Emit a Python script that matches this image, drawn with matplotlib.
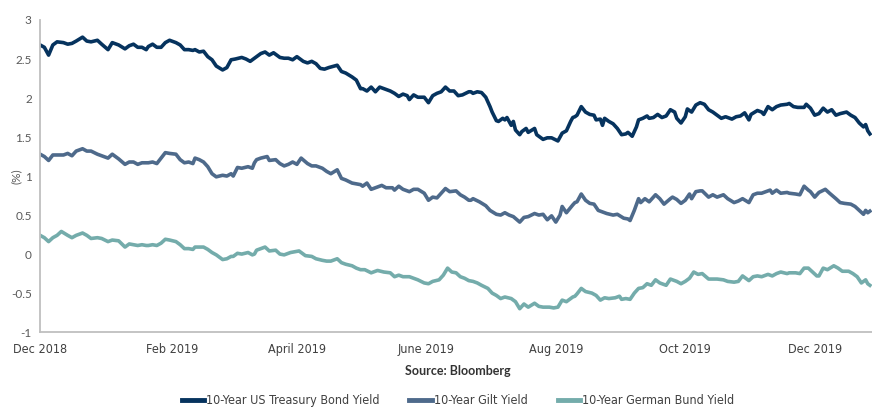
import numpy as np
import pandas as pd
import matplotlib
matplotlib.use("Agg")
import matplotlib.pyplot as plt
from matplotlib import font_manager

# 10-year government bond yields (%), day offsets from 1 Dec 2018
start = pd.Timestamp("2018-12-01")

ust_days = [0, 2, 4, 6, 8, 11, 13, 15, 17, 20, 22, 24, 27, 29, 32, 34, 37, 40, 42, 44, 46, 48, 50,
            51, 53, 55, 57, 59, 61, 64, 66, 68, 70, 72, 73, 75, 77, 79, 81, 83, 86, 88, 90, 92, 95, 97, 99, 101,
            102, 104, 106, 108, 110, 113, 115, 117, 119, 121, 124, 126, 128, 130, 132, 134, 136, 140, 142, 144, 147, 149, 151,
            152, 154, 156, 158, 160, 163, 165, 167, 169, 171, 173, 174, 176, 178, 181, 183, 185, 187, 189, 191, 193, 195, 197, 199, 202,
            203, 204, 206, 208, 210, 212, 213, 215, 216, 218, 219, 220, 222, 223, 224, 226, 227, 229, 230, 233, 234, 237, 239, 241, 244, 246, 248, 250, 251, 252,
            253, 255, 257, 259, 261, 262, 264, 265, 266, 268, 270, 272, 274, 276, 277, 279, 281, 282, 284, 286, 287, 289, 291, 293, 295, 297, 299, 300, 302,
            304, 305, 307, 309, 311, 313, 315, 317, 319, 321, 323, 326, 328, 330, 332, 334, 335, 338, 340, 341, 343, 345, 347, 349, 352,
            353, 355, 357, 360, 361, 363, 365, 367, 369, 371, 373, 375, 377, 380, 382, 384, 386, 388, 389, 390, 391]
ust = [2.68, 2.65, 2.55, 2.68, 2.72, 2.71, 2.69, 2.70, 2.73, 2.78, 2.73, 2.72, 2.74, 2.69, 2.62, 2.71, 2.68, 2.63, 2.67, 2.69, 2.65, 2.65, 2.62,
       2.66, 2.69, 2.65, 2.65, 2.71, 2.74, 2.71, 2.68, 2.62, 2.62, 2.61, 2.62, 2.59, 2.60, 2.53, 2.49, 2.41, 2.36, 2.39, 2.49, 2.50, 2.52, 2.50, 2.47, 2.51,
       2.53, 2.57, 2.59, 2.55, 2.58, 2.52, 2.51, 2.51, 2.49, 2.53, 2.47, 2.45, 2.47, 2.44, 2.38, 2.37, 2.39, 2.42, 2.34, 2.32, 2.27, 2.23, 2.12,
       2.12, 2.09, 2.14, 2.08, 2.14, 2.11, 2.09, 2.06, 2.02, 2.05, 2.03, 1.98, 2.04, 2.01, 2.01, 1.94, 2.03, 2.06, 2.08, 2.14, 2.09, 2.09, 2.03, 2.04, 2.08,
       2.08, 2.06, 2.08, 2.07, 2.01, 1.89, 1.82, 1.71, 1.70, 1.74, 1.72, 1.75, 1.65, 1.70, 1.59, 1.53, 1.57, 1.61, 1.56, 1.61, 1.53, 1.47, 1.49, 1.49, 1.45, 1.55, 1.58, 1.70, 1.75, 1.76,
       1.78, 1.89, 1.82, 1.79, 1.78, 1.72, 1.73, 1.65, 1.74, 1.70, 1.67, 1.61, 1.53, 1.54, 1.56, 1.51, 1.63, 1.72, 1.74, 1.77, 1.74, 1.75, 1.79, 1.75, 1.77, 1.85, 1.82, 1.74, 1.68,
       1.76, 1.86, 1.82, 1.91, 1.94, 1.92, 1.85, 1.82, 1.78, 1.74, 1.76, 1.73, 1.76, 1.77, 1.81, 1.72, 1.79, 1.84, 1.82, 1.79, 1.89, 1.85, 1.89, 1.91, 1.92,
       1.93, 1.89, 1.88, 1.88, 1.92, 1.87, 1.78, 1.80, 1.87, 1.82, 1.85, 1.78, 1.80, 1.82, 1.78, 1.75, 1.68, 1.63, 1.66, 1.58, 1.54]

gilt_days = [0, 2, 4, 6, 8, 11, 13, 15, 17, 20, 22, 24, 27, 29, 32, 34, 37, 40, 42, 44, 46, 48, 50,
             51, 53, 55, 57, 59, 61, 64, 66, 68, 70, 72, 73, 75, 77, 79, 81, 83, 86, 88, 90, 91, 93, 95, 98, 100, 101,
             102, 104, 107, 108, 111, 113, 115, 117, 119, 121, 123, 126, 128, 130, 133, 135, 137, 140, 142, 144, 147, 149, 151,
             152, 154, 156, 159, 161, 163, 166, 167, 169, 171, 174, 176, 178, 181, 183, 185, 187, 189, 191, 193, 196, 198, 200, 202,
             203, 204, 207, 210, 212, 215, 217, 219, 221, 223, 226, 228, 230, 233, 235, 237, 239, 241, 243, 245, 246, 248, 251, 252,
             253, 255, 257, 259, 261, 263, 265, 267, 270, 272, 275, 277, 278, 280, 282, 283, 285, 287, 290, 292, 294, 297, 298, 300, 302,
             304, 306, 307, 309, 311, 312, 315, 317, 319, 322, 324, 327, 329, 331, 334, 336, 338, 340, 342, 344, 345, 347, 349, 352,
             353, 356, 358, 360, 362, 363, 365, 367, 370, 372, 375, 377, 379, 382, 384, 386, 388, 389, 390, 391]
gilt = [1.28, 1.25, 1.20, 1.27, 1.27, 1.27, 1.29, 1.26, 1.32, 1.35, 1.32, 1.32, 1.28, 1.26, 1.23, 1.28, 1.22, 1.15, 1.18, 1.18, 1.15, 1.17, 1.17,
        1.17, 1.18, 1.16, 1.23, 1.30, 1.29, 1.28, 1.21, 1.17, 1.18, 1.16, 1.23, 1.21, 1.18, 1.12, 1.03, 0.99, 1.01, 1.00, 1.03, 1.00, 1.11, 1.10, 1.12, 1.10, 1.17,
        1.21, 1.23, 1.25, 1.20, 1.21, 1.16, 1.13, 1.15, 1.18, 1.15, 1.23, 1.16, 1.13, 1.13, 1.10, 1.06, 1.03, 1.08, 0.97, 0.95, 0.91, 0.90, 0.89,
        0.87, 0.91, 0.83, 0.86, 0.88, 0.85, 0.85, 0.82, 0.87, 0.83, 0.80, 0.83, 0.83, 0.78, 0.69, 0.73, 0.72, 0.78, 0.84, 0.80, 0.81, 0.76, 0.73, 0.69,
        0.69, 0.71, 0.67, 0.62, 0.56, 0.51, 0.50, 0.53, 0.50, 0.48, 0.41, 0.47, 0.48, 0.52, 0.50, 0.51, 0.44, 0.49, 0.41, 0.50, 0.61, 0.53, 0.63, 0.66,
        0.67, 0.77, 0.69, 0.65, 0.64, 0.56, 0.54, 0.52, 0.50, 0.51, 0.46, 0.45, 0.43, 0.56, 0.71, 0.66, 0.71, 0.67, 0.76, 0.71, 0.64, 0.71, 0.73, 0.70, 0.65,
        0.69, 0.77, 0.71, 0.80, 0.81, 0.81, 0.73, 0.76, 0.73, 0.76, 0.71, 0.66, 0.68, 0.71, 0.66, 0.76, 0.78, 0.78, 0.80, 0.82, 0.78, 0.82, 0.78, 0.79,
        0.78, 0.77, 0.76, 0.87, 0.82, 0.80, 0.73, 0.79, 0.83, 0.78, 0.71, 0.66, 0.65, 0.64, 0.61, 0.56, 0.51, 0.56, 0.53, 0.55]

bund_days = [0, 2, 4, 6, 8, 10, 13, 15, 17, 20, 22, 24, 27, 29, 32, 34, 37, 40, 42, 44, 46, 48, 50,
             51, 53, 55, 57, 59, 61, 64, 66, 68, 70, 72, 73, 75, 77, 79, 81, 83, 86, 88, 90, 91, 93, 95, 98, 100, 101,
             102, 104, 106, 108, 111, 113, 115, 118, 120, 122, 125, 128, 130, 133, 135, 137, 140, 142, 144, 147, 149, 151,
             153, 156, 159, 162, 165, 167, 169, 171, 174, 176, 178, 181, 183, 185, 188, 190, 192, 194, 196, 198, 200, 202,
             204, 206, 208, 211, 213, 215, 217, 219, 222, 224, 226, 228, 230, 233, 235, 237, 240, 242, 244, 246, 248, 251, 252,
             253, 255, 257, 260, 262, 264, 266, 268, 271, 273, 274, 276, 278, 280, 282, 284, 286, 288, 290, 292, 295, 297, 300, 302,
             304, 306, 308, 310, 312, 315, 317, 319, 322, 324, 327, 329, 331, 334, 336, 338, 340, 343, 345, 347, 349, 352,
             353, 356, 358, 360, 362, 364, 366, 367, 369, 371, 374, 376, 378, 381, 383, 385, 387, 389, 390, 391]
bund = [0.24, 0.21, 0.16, 0.21, 0.24, 0.29, 0.24, 0.21, 0.24, 0.27, 0.24, 0.20, 0.21, 0.20, 0.16, 0.18, 0.17, 0.09, 0.13, 0.12, 0.11, 0.12, 0.11,
        0.11, 0.12, 0.11, 0.14, 0.19, 0.18, 0.16, 0.12, 0.07, 0.07, 0.06, 0.09, 0.09, 0.09, 0.06, 0.02, -0.01, -0.07, -0.06, -0.03, -0.03, 0.01, 0.00, 0.02, -0.01, 0.00,
        0.05, 0.07, 0.09, 0.04, 0.05, 0.00, -0.01, 0.02, 0.03, 0.04, -0.02, -0.03, -0.06, -0.08, -0.09, -0.09, -0.06, -0.11, -0.13, -0.15, -0.18, -0.20,
        -0.20, -0.24, -0.21, -0.23, -0.24, -0.29, -0.27, -0.29, -0.29, -0.31, -0.33, -0.37, -0.38, -0.35, -0.33, -0.27, -0.18, -0.23, -0.24, -0.29, -0.31, -0.34,
        -0.35, -0.37, -0.40, -0.44, -0.50, -0.53, -0.57, -0.55, -0.57, -0.61, -0.70, -0.64, -0.68, -0.63, -0.67, -0.68, -0.68, -0.69, -0.68, -0.59, -0.61, -0.55, -0.54,
        -0.51, -0.44, -0.48, -0.50, -0.53, -0.59, -0.56, -0.57, -0.56, -0.54, -0.58, -0.57, -0.58, -0.50, -0.44, -0.43, -0.38, -0.40, -0.33, -0.37, -0.40, -0.32, -0.35, -0.38,
        -0.35, -0.31, -0.23, -0.26, -0.25, -0.32, -0.32, -0.32, -0.33, -0.35, -0.36, -0.35, -0.28, -0.34, -0.29, -0.28, -0.29, -0.26, -0.28, -0.25, -0.23, -0.25,
        -0.24, -0.24, -0.25, -0.18, -0.18, -0.23, -0.28, -0.28, -0.18, -0.20, -0.15, -0.18, -0.22, -0.22, -0.25, -0.29, -0.37, -0.33, -0.38, -0.40]

labels = ["10-Year US Treasury Bond Yield", "10-Year Gilt Yield", "10-Year German Bund Yield"]
colors = ["#06335e", "#4e6a8b", "#74acab"]

tick_dates = ["2018-12-01", "2019-02-01", "2019-04-01", "2019-06-01", "2019-08-01", "2019-10-01", "2019-12-01"]
tick_labels = ["Dec 2018", "Feb 2019", "April 2019", "June 2019", "Aug 2019", "Oct 2019", "Dec 2019"]
y_ticks = [3, 2.5, 2, 1.5, 1, 0.5, 0, -0.5, -1]

# narrow face for the date labels and legend, if one is around
installed = {f.name for f in font_manager.fontManager.ttflist}
narrow_prop = None
for name in ["Liberation Sans Narrow", "DejaVu Sans Condensed"]:
    if name in installed:
        narrow_prop = dict(family=name)
        break
if narrow_prop is None:
    narrow_prop = dict(family="DejaVu Sans", stretch="condensed")

grey = "#595959"

fig = plt.figure(figsize=(8.72, 4.08), dpi=100)
ax = fig.add_axes([0.046, 0.186, 0.954, 0.765])

series = [(ust_days, ust), (gilt_days, gilt), (bund_days, bund)]
for (d, v), lab, col in zip(series, labels, colors):
    x = start + pd.to_timedelta(d, unit="D")
    ax.plot(x, v, color=col, lw=2.6, label=lab, solid_joinstyle="round")

ax.set_xlim(start, start + pd.Timedelta(days=392))
ax.set_ylim(-1, 3)

ax.set_yticks(y_ticks)
ax.set_yticklabels(["%g" % t for t in y_ticks], fontsize=8.5, color=grey, family="Lato")
ax.set_xticks(pd.to_datetime(tick_dates))
ax.set_xticklabels(tick_labels, fontsize=9, color="#404040", **narrow_prop)
ax.tick_params(axis="both", length=0)
ax.tick_params(axis="y", pad=6)
ax.tick_params(axis="x", pad=8)

for s in ["top", "right"]:
    ax.spines[s].set_visible(False)
for s in ["left", "bottom"]:
    ax.spines[s].set_color("#bfbfbf")
    ax.spines[s].set_linewidth(1.3)

ax.set_ylabel("(%)", fontsize=8.5, color=grey, family="Lato")
ax.yaxis.set_label_coords(-0.022, 0.5)

fig.text(0.525, 0.09, "Source: Bloomberg", ha="center", va="center",
         fontsize=9, fontweight="bold", color="#333333", family="Lato")

leg = fig.legend(loc="center", bbox_to_anchor=(0.525, 0.018), ncol=3, frameon=False,
                 handlelength=1.8, handletextpad=0.15, columnspacing=2.4,
                 prop=dict(size=9, **narrow_prop))
for h in leg.get_lines():
    h.set_linewidth(3.5)
for t in leg.get_texts():
    t.set_color("#404040")

fig.savefig("out.png", dpi=100)
